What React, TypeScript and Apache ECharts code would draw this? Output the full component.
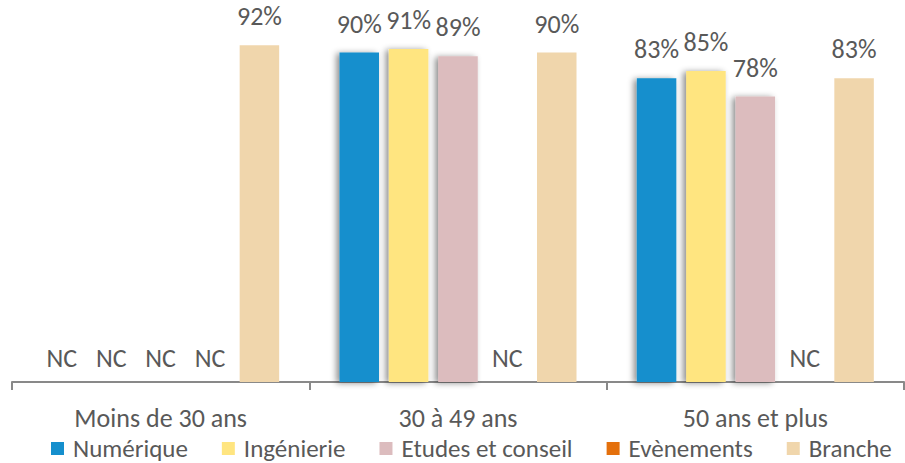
import React, { useEffect, useRef } from "react";
import * as echarts from "echarts";

const categories = ["Moins de 30 ans", "30 à 49 ans", "50 ans et plus"];
const seriesNames = ["Numérique", "Ingénierie", "Etudes et conseil", "Evènements", "Branche"];
const numerique: (number | null)[] = [null, 0.9, 0.83];
const ingenierie: (number | null)[] = [null, 0.91, 0.85];
const etudes: (number | null)[] = [null, 0.89, 0.78];
const evenements: (number | null)[] = [null, null, null];
const branche: (number | null)[] = [0.92, 0.9, 0.83];
const colors = ["#158FCD", "#FFE580", "#DCBCBE", "#E4700C", "#F0D6AC"];
const hasShadow = [true, true, true, true, false];

const FONT = "Carlito, Lato, sans-serif";

export default function App() {
  const ref = useRef<HTMLDivElement>(null);
  useEffect(() => {
    document.body.style.margin = "0";
    if (!ref.current) return;
    const chart = echarts.init(ref.current, null, { renderer: "svg" });
    const all = [numerique, ingenierie, etudes, evenements, branche];
    const series = all.map((arr, i) => ({
      name: seriesNames[i],
      type: "bar",
      barWidth: 39.5,
      barGap: "25%",
      itemStyle: hasShadow[i]
        ? {
            color: colors[i],
            shadowColor: "rgba(0,0,0,0.45)",
            shadowBlur: 6,
            shadowOffsetX: -3,
            shadowOffsetY: 1,
          }
        : { color: colors[i] },
      label: {
        show: true,
        position: "top",
        distance: 16,
        fontFamily: FONT,
        fontSize: 26,
        color: "#595959",
        formatter: (p: any) => Math.round(p.value * 100) + "%",
      },
      data: arr.map((v) =>
        v === null
          ? {
              value: 0,
              itemStyle: { shadowBlur: 0, shadowColor: "transparent" },
              label: { show: true, formatter: "NC", distance: 11 },
            }
          : v
      ),
    }));
    chart.setOption({
      animation: false,
      grid: { left: 12, right: 1, top: 16, bottom: 81 },
      legend: {
        top: 436,
        left: 51,
        itemWidth: 13,
        itemHeight: 13,
        itemGap: 34,
        icon: "rect",
        padding: 0,
        textStyle: {
          fontFamily: FONT,
          fontSize: 25,
          lineHeight: 24,
          color: "#595959",
          padding: [0, 0, 0, 4],
        },
        data: seriesNames,
      },
      xAxis: {
        type: "category",
        data: categories,
        axisLine: { lineStyle: { color: "#898989", width: 2 } },
        axisTick: { show: true, length: 8, lineStyle: { color: "#898989", width: 2 } },
        axisLabel: { margin: 23, fontFamily: FONT, fontSize: 26, color: "#595959" },
      },
      yAxis: {
        type: "value",
        min: 0,
        max: 1,
        show: false,
        splitLine: { show: false },
      },
      series,
    });
    return () => chart.dispose();
  }, []);
  return <div ref={ref} style={{ width: 905, height: 463 }} />;
}
